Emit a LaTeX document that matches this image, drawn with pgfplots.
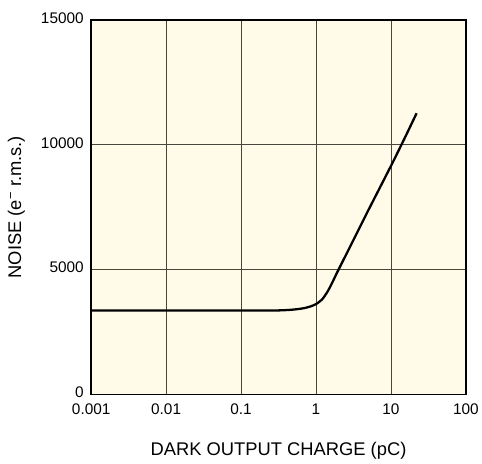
\documentclass[border=0pt]{standalone}
\usepackage{pgfplots}
\pgfplotsset{compat=1.18}
\usepackage{fontspec}
\setmainfont{Liberation Sans}
\definecolor{bgcream}{RGB}{255,251,232}
\definecolor{gridc}{RGB}{70,70,60}
\begin{document}
\begin{tikzpicture}
\begin{axis}[
  scale only axis,
  width=378pt, height=378pt,
  xmode=log,
  xmin=0.001, xmax=100,
  ymin=0, ymax=15000,
  xtick={0.001,0.01,0.1,1,10,100},
  xticklabels={0.001,0.01,0.1,1,10,100},
  ytick={0,5000,10000,15000},
  yticklabels={0,5000,10000,15000},
  scaled y ticks=false,
  minor xtick={},
  grid=major,
  major grid style={gridc, line width=0.8pt},
  tick style={draw=none},
  major tick length=0pt,
  minor tick length=0pt,
  axis line style={black, line width=1.6pt},
  axis background/.style={fill=bgcream},
  tick label style={font=\fontsize{15.5}{17}\selectfont},
  xticklabel style={yshift=-6pt},
  yticklabel style={xshift=-4pt, yshift=2pt},
  label style={font=\fontsize{18.5}{21}\selectfont},
  xlabel={DARK OUTPUT CHARGE (pC)},
  ylabel={NOISE (e\textsuperscript{−} r.m.s.)},
  xlabel style={at={(axis description cs:0.5,-0.1508)}, anchor=center},
  ylabel style={at={(axis description cs:-0.1997,0.5)}, anchor=center, rotate=0},
  /pgf/number format/assume math mode=true,
  clip=false,
]
\addplot[black, line width=2.3pt, smooth, tension=0.5] coordinates {
(0.001,3360) (0.01,3360) (0.1,3360) (0.3,3365) (0.5,3400) (0.7,3460) (0.85,3530) (1.0,3620) (1.2,3800) (1.4,4080) (1.6,4400) (1.8,4720) (2.0,5000) (3,6050) (5,7380) (10,9150) (15,10220) (22,11260)
};
\end{axis}
\path ([xshift=-92pt,yshift=-70pt]current axis.south west) rectangle ([xshift=12pt,yshift=20pt]current axis.north east);
\end{tikzpicture}
\end{document}
